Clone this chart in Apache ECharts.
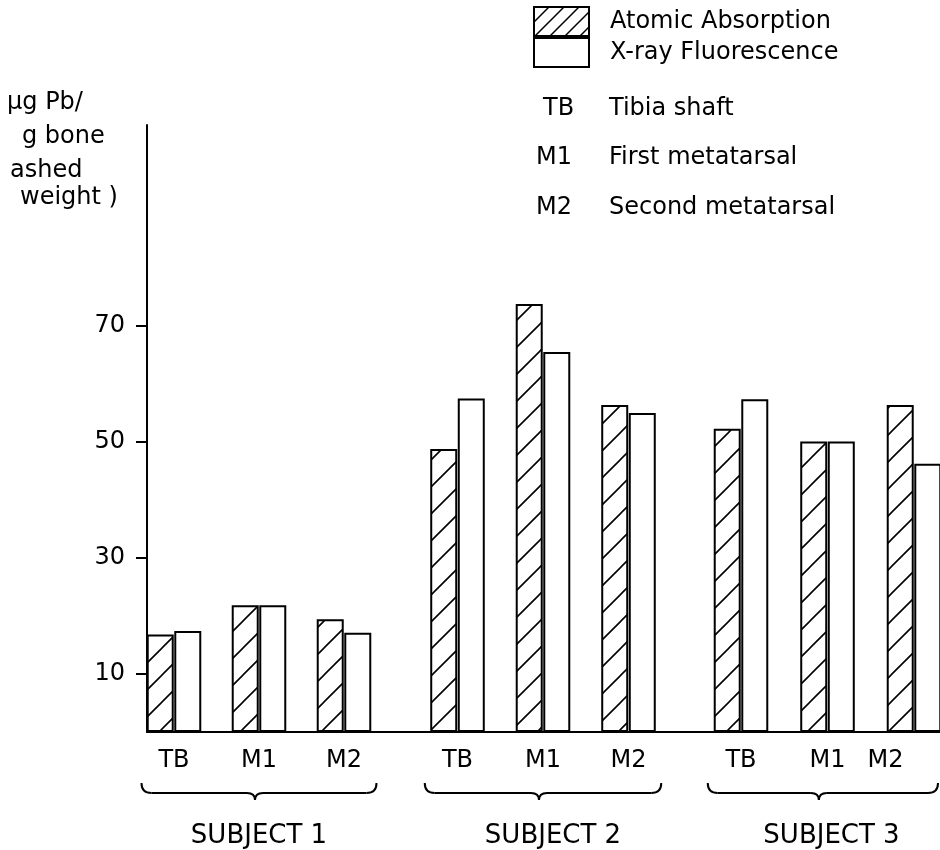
<!DOCTYPE html>
<html>
<head>
<meta charset="utf-8">
<script src="https://cdn.jsdelivr.net/npm/echarts@6/dist/echarts.min.js"></script>
<style>
html,body{margin:0;padding:0;background:#fff;}
#chart{width:940px;height:850px;}
</style>
</head>
<body>
<div id="chart"></div>
<script>
// ---- data ----
const subjects = ['SUBJECT 1', 'SUBJECT 2', 'SUBJECT 3'];
const bones = ['TB', 'M1', 'M2'];
const boneNames = ['Tibia shaft', 'First metatarsal', 'Second metatarsal'];
const methods = ['Atomic Absorption', 'X-ray Fluorescence'];
// values in µg Pb / g bone (ashed weight), order: S1 TB,M1,M2, S2 TB,M1,M2, S3 TB,M1,M2
const atomicAbsorption = [16.8, 21.8, 19.4, 48.7, 73.7, 56.3, 52.2, 50.0, 56.3];
const xrayFluorescence = [17.4, 21.8, 17.1, 57.4, 65.4, 54.9, 57.3, 50.0, 46.2];
const yTicks = [10, 30, 50, 70];
const yTitleLines = ['µg Pb/', 'g bone', 'ashed', 'weight )'];

// ---- styles ----
const FONT = 'DejaVu Sans';
function makeHatch(s, lw) {
  const c = document.createElement('canvas');
  c.width = s; c.height = s;
  const g = c.getContext('2d');
  g.fillStyle = '#fff'; g.fillRect(0, 0, s, s);
  g.strokeStyle = '#000'; g.lineWidth = lw;
  g.beginPath();
  g.moveTo(0, s); g.lineTo(s, 0);
  g.moveTo(-2, 2); g.lineTo(2, -2);
  g.moveTo(s - 2, s + 2); g.lineTo(s + 2, s - 2);
  g.stroke();
  return { image: c, repeat: 'repeat' };
}
const hatchFill = makeHatch(27, 1.6);
const legendHatch = makeHatch(15, 1.5);

const yMax = 104.5;
const gridTop = 125, gridBottom = 118;
const subjectGrids = [
  { left: 131.5, width: 255 },
  { left: 414.75, width: 256.5 },
  { left: 697.75, width: 259.5 }
];
const subjectNamePad = [[0, 0, 0, 0], [0, 0, 0, 20], [0, 0, 0, 8]];

const grid = [{ left: 147, right: 0, top: gridTop, bottom: gridBottom, outerBoundsMode: 'none', containLabel: false }];
const xAxis = [{
  gridIndex: 0, type: 'value', min: 0, max: 1,
  axisLine: { show: true, lineStyle: { color: '#000', width: 2 } },
  axisTick: { show: false }, axisLabel: { show: false }, splitLine: { show: false }
}];
const yAxis = [{
  gridIndex: 0, type: 'value', min: 0, max: yMax,
  axisLine: { show: true, lineStyle: { color: '#000', width: 2 } },
  axisTick: { show: true, length: 11, customValues: yTicks, lineStyle: { color: '#000', width: 2 } },
  axisLabel: { customValues: yTicks, color: '#000', fontSize: 24, fontFamily: FONT, margin: 22 },
  splitLine: { show: false }
}];
const series = [];

subjects.forEach((name, i) => {
  grid.push({
    left: subjectGrids[i].left, width: subjectGrids[i].width, top: gridTop, bottom: gridBottom,
    outerBoundsMode: 'none', containLabel: false
  });
  xAxis.push({
    gridIndex: i + 1, type: 'category', data: bones,
    axisLine: { show: false }, axisTick: { show: false },
    axisLabel: {
      interval: 0, hideOverlap: false,
      color: '#000', fontSize: 24, fontFamily: FONT, margin: 17,
      formatter: (i === 2) ? function (v, idx) { return idx === 2 ? '{o|' + v + '}' : v; } : null,
      rich: { o: { color: '#000', fontSize: 24, fontFamily: FONT, padding: [0, 57, 0, 0] } }
    },
    name: name, nameLocation: 'middle', nameGap: 91,
    nameTextStyle: { color: '#000', fontSize: 26, fontFamily: FONT, padding: subjectNamePad[i] }
  });
  yAxis.push({ gridIndex: i + 1, type: 'value', min: 0, max: yMax, show: false });
  series.push({
    type: 'bar', name: methods[0], xAxisIndex: i + 1, yAxisIndex: i + 1,
    data: atomicAbsorption.slice(i * 3, i * 3 + 3),
    barWidth: 27, barGap: '2%',
    itemStyle: { color: hatchFill, borderColor: '#000', borderWidth: 2 }
  });
  series.push({
    type: 'bar', name: methods[1], xAxisIndex: i + 1, yAxisIndex: i + 1,
    data: xrayFluorescence.slice(i * 3, i * 3 + 3),
    barWidth: 27, barGap: '2%',
    itemStyle: { color: '#fff', borderColor: '#000', borderWidth: 2 }
  });
});

const textStyle = { fill: '#000', fontSize: 24, fontFamily: FONT, verticalAlign: 'middle' };
const graphic = [];
const titleX = [7, 22, 10, 20], titleY = [103, 137, 171, 198];
yTitleLines.forEach((t, k) => {
  graphic.push({ type: 'text', x: titleX[k], y: titleY[k], style: Object.assign({ text: t }, textStyle) });
});
const codeX = [543, 536, 536], defY = [109, 158, 208];
bones.forEach((b, k) => {
  graphic.push({ type: 'text', x: codeX[k], y: defY[k], style: Object.assign({ text: b }, textStyle) });
  graphic.push({ type: 'text', x: 609, y: defY[k], style: Object.assign({ text: boneNames[k] }, textStyle) });
});

const chart = echarts.init(document.getElementById('chart'), null, { renderer: 'canvas' });
chart.setOption({
  backgroundColor: '#fff',
  animation: false,
  legend: {
    data: [
      { name: methods[0], itemStyle: { color: legendHatch, borderColor: '#000', borderWidth: 2 } },
      { name: methods[1], itemStyle: { color: '#fff', borderColor: '#000', borderWidth: 2 } }
    ],
    orient: 'vertical', left: 533, top: 6, padding: 0,
    itemWidth: 55, itemHeight: 29, itemGap: 0, icon: 'rect',
    selectedMode: false,
    textStyle: { color: '#000', fontSize: 24, fontFamily: FONT, lineHeight: 29, padding: [0, 0, 0, 16] }
  },
  grid: grid, xAxis: xAxis, yAxis: yAxis, series: series, graphic: graphic
});

// braces under each subject, computed from axis positions
const braceStyle = { fill: null, stroke: '#000', lineWidth: 2 };
const braces = [];
subjects.forEach((name, i) => {
  const c0 = chart.convertToPixel({ xAxisIndex: i + 1 }, bones[0]);
  const c2 = chart.convertToPixel({ xAxisIndex: i + 1 }, bones[2]);
  const w = (c2 - c0) / 2;
  const x0 = c0 - w / 2 + 10;
  const x1 = Math.min(c2 + w / 2 - 10, 938);
  const cx = (x0 + x1) / 2 - 4;
  const yTop = 783, yL = 793, yTip = 800;
  braces.push({ type: 'bezierCurve', shape: { x1: x0, y1: yTop, x2: x0 + 10, y2: yL, cpx1: x0, cpy1: yL }, style: braceStyle });
  braces.push({ type: 'line', shape: { x1: x0 + 10, y1: yL, x2: cx - 8, y2: yL }, style: braceStyle });
  braces.push({ type: 'bezierCurve', shape: { x1: cx - 8, y1: yL, x2: cx, y2: yTip, cpx1: cx, cpy1: yL }, style: braceStyle });
  braces.push({ type: 'bezierCurve', shape: { x1: cx, y1: yTip, x2: cx + 8, y2: yL, cpx1: cx, cpy1: yL }, style: braceStyle });
  braces.push({ type: 'line', shape: { x1: cx + 8, y1: yL, x2: x1 - 10, y2: yL }, style: braceStyle });
  braces.push({ type: 'bezierCurve', shape: { x1: x1 - 10, y1: yL, x2: x1, y2: yTop, cpx1: x1, cpy1: yL }, style: braceStyle });
});
chart.setOption({ graphic: graphic.concat(braces) });
</script>
</body>
</html>
